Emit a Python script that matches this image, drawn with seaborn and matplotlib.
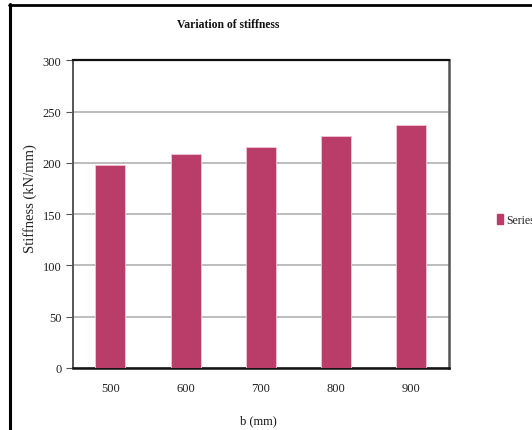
import matplotlib
matplotlib.use("Agg")
import matplotlib.pyplot as plt
from matplotlib.lines import Line2D
from matplotlib.patches import Patch
import seaborn as sns
import pandas as pd

widths = ["500", "600", "700", "800", "900"]
stiffness = [197.5, 208.5, 215, 226, 237]
series_name = "Series1"
y_ticks = [0, 50, 100, 150, 200, 250, 300]

sns.set_theme(style="white")
plt.rcParams["font.family"] = ["Liberation Serif", "DejaVu Serif"]

bar_color = "#B93D68"
df = pd.DataFrame({"b": widths, "stiffness": stiffness})

W, H = 532, 431
fig = plt.figure(figsize=(W / 100, H / 100), dpi=100)
ax = fig.add_axes([72.7 / W, 1 - 369 / H, (449 - 72.7) / W, (369 - 61.3) / H])

sns.barplot(data=df, x="b", y="stiffness", color=bar_color, saturation=1,
            width=0.4, edgecolor="#F2C6D6", linewidth=0.6, ax=ax, zorder=3)

ax.set_ylim(0, 300)
ax.set_yticks(y_ticks)
ax.set_xlim(-0.5, len(widths) - 0.5)
ax.yaxis.grid(True, color="#ABABAB", linewidth=1.1, zorder=0)
ax.xaxis.grid(False)

for side, col, lw in [("top", "#111111", 1.6), ("bottom", "#111111", 1.8),
                      ("left", "#555555", 1.4), ("right", "#555555", 1.8)]:
    ax.spines[side].set_visible(True)
    ax.spines[side].set_color(col)
    ax.spines[side].set_linewidth(lw)

ax.tick_params(axis="y", which="major", left=True, length=5, width=0.8,
               color="#555555", labelsize=9, labelcolor="#222222", pad=3)
ax.tick_params(axis="x", which="major", bottom=False, labelsize=9,
               labelcolor="#222222", pad=4)

ax.set_xlabel("")
ax.set_ylabel("")
fig.text(258 / W, 1 - 421 / H, "b (mm)", ha="center", va="center",
         fontsize=9, color="#111111")
fig.text(30 / W, 1 - 199 / H, "Stiffness (kN/mm)", ha="center", va="center",
         rotation=90, fontsize=10.5, color="#222222")

fig.text(228 / W, 1 - 25 / H, "Variation of stiffness", ha="center", va="center",
         fontsize=8.4, fontweight="bold", color="#111111")

# outer chart frame (top and left edges)
fig.add_artist(Line2D([9 / W, 1.0], [1 - 6 / H, 1 - 6 / H],
                      transform=fig.transFigure, color="black", linewidth=2))
fig.add_artist(Line2D([10 / W, 10 / W], [0.0, 1 - 5 / H],
                      transform=fig.transFigure, color="black", linewidth=2.2))

handle = Patch(facecolor=bar_color, edgecolor=bar_color)
fig.legend([handle], [series_name], loc="center left",
           bbox_to_anchor=(497 / W, 1 - 221 / H), frameon=False,
           fontsize=8.5, handlelength=0.55, handleheight=0.9, handletextpad=0.25,
           borderaxespad=0, borderpad=0)

fig.savefig("out.png", dpi=100)
